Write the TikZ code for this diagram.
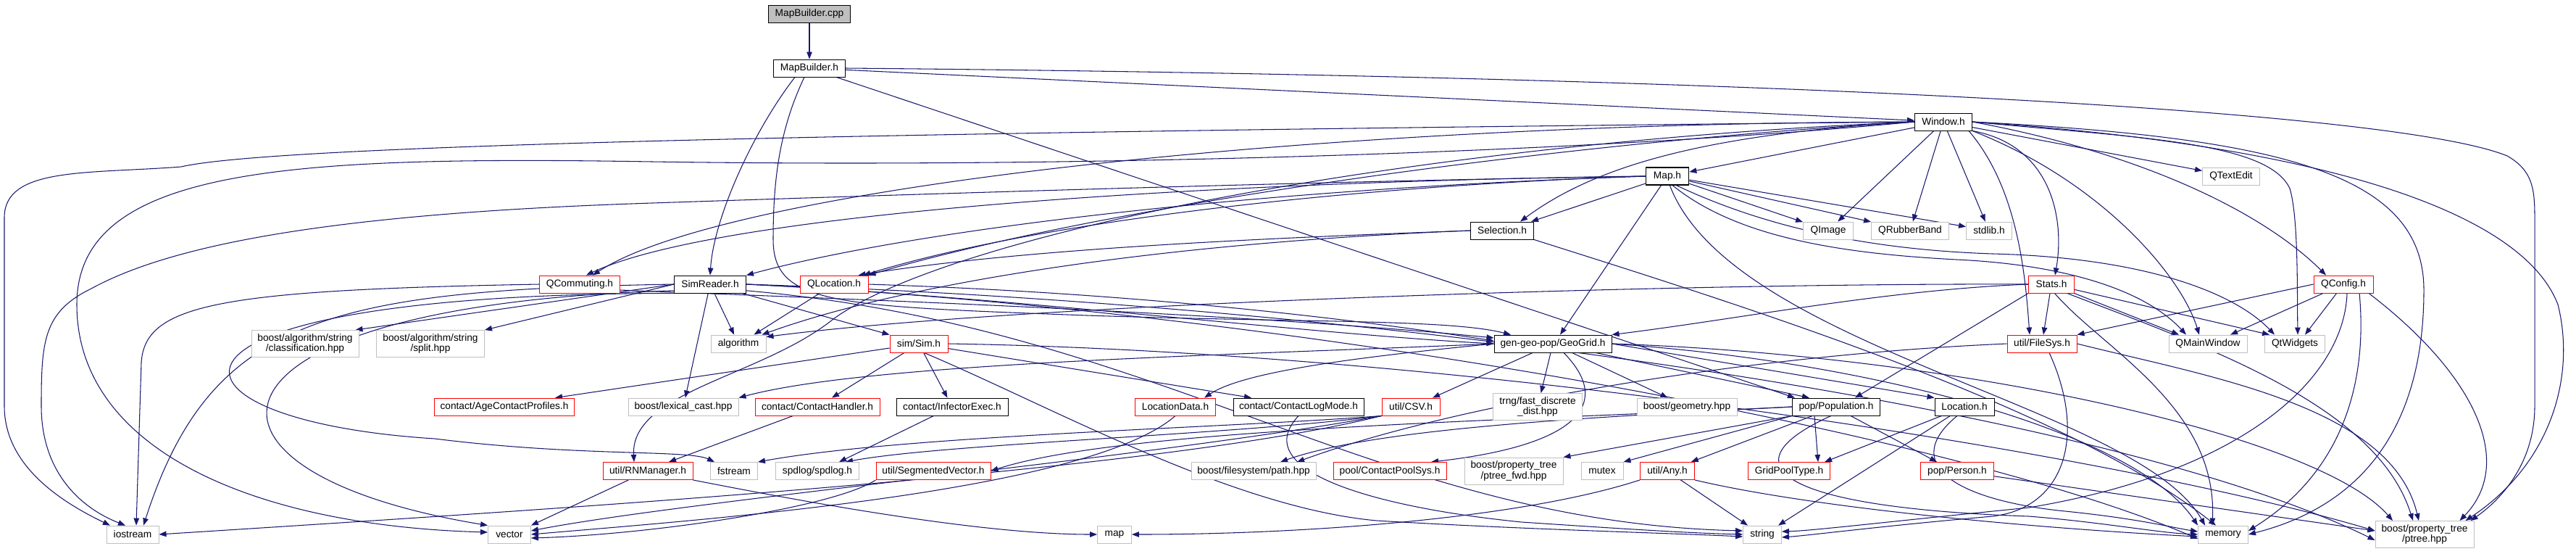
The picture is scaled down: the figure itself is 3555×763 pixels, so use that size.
\documentclass[tikz,border=0pt]{standalone}
\usepackage{fontspec}
\setmainfont{Liberation Sans}
\usetikzlibrary{arrows.meta,backgrounds}
\definecolor{edgeblue}{HTML}{191970}
\definecolor{extgray}{HTML}{BFBFBF}
\newcommand{\dxfont}{\fontsize{3.9}{4.1}\selectfont}

\begin{document}
\begin{tikzpicture}[x=0.01cm, y=0.01cm,
    incbox/.style={draw, line width=0.25pt, fill=white, inner sep=0pt, minimum height=0.24cm, font=\dxfont, align=center},
    docfile/.style={incbox, draw=black},
    extfile/.style={incbox, draw=extgray},
    cutfile/.style={incbox, draw=red},
    rootfile/.style={incbox, draw=black, fill=extgray},
    twoline/.style={minimum height=0.37cm},
    inc/.style={draw=edgeblue, line width=0.3pt, -{Triangle[length=0.1cm, width=0.075cm]}}
  ]
    \useasboundingbox (0,0) rectangle (3555,-763);

    % Top of the graph.
    \node[rootfile, minimum width=1.13cm] (cpp) at (1117,-19) {MapBuilder.cpp};
    \node[docfile, minimum width=0.99cm] (mbh) at (1117,-94) {MapBuilder.h};
    \node[docfile, minimum width=0.79cm] (win) at (2682,-168) {Window.h};
    \node[docfile, minimum width=0.59cm, line width=0.45pt] (maph) at (2301,-243) {Map.h};
    \node[extfile, minimum width=0.79cm] (qtext) at (3079,-243) {QTextEdit};
    \node[docfile, minimum width=0.87cm] (sel) at (2073,-318) {Selection.h};
    \node[extfile, minimum width=0.69cm] (qimg) at (2523,-318) {QImage};
    \node[extfile, minimum width=1.07cm] (qrub) at (2636,-318) {QRubberBand};
    \node[extfile, minimum width=0.63cm] (stdlib) at (2745,-318) {stdlib.h};

    % Viewer headers.
    \node[cutfile, minimum width=1.11cm] (qcomm) at (800,-392) {QCommuting.h};
    \node[docfile, minimum width=0.99cm] (simr) at (980,-392) {SimReader.h};
    \node[cutfile, minimum width=0.94cm] (qloc) at (1151,-392) {QLocation.h};
    \node[cutfile, minimum width=0.63cm] (stats) at (2831,-392) {Stats.h};
    \node[cutfile, minimum width=0.82cm] (qconf) at (3234,-392) {QConfig.h};

    % Middle row.
    \node[extfile, twoline, minimum width=1.48cm] (cls) at (421,-474) {boost/algorithm/string\\/classification.hpp};
    \node[extfile, twoline, minimum width=1.49cm] (split) at (594,-474) {boost/algorithm/string\\/split.hpp};
    \node[extfile, minimum width=0.76cm] (algo) at (1019,-474) {algorithm};
    \node[cutfile, minimum width=0.80cm] (sim) at (1268,-474) {sim/Sim.h};
    \node[docfile, minimum width=1.62cm] (geo) at (2143,-474) {gen-geo-pop/GeoGrid.h};
    \node[cutfile, minimum width=0.96cm] (fsys) at (2818,-474) {util/FileSys.h};
    \node[extfile, minimum width=1.08cm] (qmw) at (3047,-474) {QMainWindow};
    \node[extfile, minimum width=0.83cm] (qtw) at (3167,-474) {QtWidgets};

    \node[cutfile, minimum width=1.93cm] (agecp) at (696,-561) {contact/AgeContactProfiles.h};
    \node[extfile, minimum width=1.52cm] (lex) at (943,-561) {boost/lexical\_cast.hpp};
    \node[cutfile, minimum width=1.72cm] (chand) at (1128,-561) {contact/ContactHandler.h};
    \node[docfile, minimum width=1.54cm] (infx) at (1314,-561) {contact/InfectorExec.h};
    \node[cutfile, minimum width=1.11cm] (locd) at (1622,-561) {LocationData.h};
    \node[docfile, minimum width=1.80cm] (clog) at (1792,-561) {contact/ContactLogMode.h};
    \node[cutfile, minimum width=0.80cm] (csv) at (1947,-561) {util/CSV.h};
    \node[extfile, twoline, minimum width=1.23cm] (trng) at (2122,-561) {trng/fast\_discrete\\\_dist.hpp};
    \node[extfile, minimum width=1.38cm] (bgeo) at (2328,-561) {boost/geometry.hpp};
    \node[docfile, minimum width=1.21cm] (pop) at (2534,-561) {pop/Population.h};
    \node[docfile, minimum width=0.82cm] (loc) at (2711,-561) {Location.h};

    \node[cutfile, minimum width=1.24cm] (rnm) at (894,-649.5) {util/RNManager.h};
    \node[extfile, minimum width=0.65cm] (fstr) at (1013,-649.5) {fstream};
    \node[extfile, minimum width=1.15cm] (spd) at (1128,-649.5) {spdlog/spdlog.h};
    \node[cutfile, minimum width=1.58cm] (segv) at (1288,-649.5) {util/SegmentedVector.h};
    \node[extfile, minimum width=1.72cm] (bfs) at (1730,-649.5) {boost/filesystem/path.hpp};
    \node[cutfile, minimum width=1.56cm] (cps) at (1918,-649.5) {pool/ContactPoolSys.h};
    \node[extfile, twoline, minimum width=1.36cm] (pfwd) at (2089,-649.5) {boost/property\_tree\\/ptree\_fwd.hpp};
    \node[extfile, minimum width=0.58cm] (mutex) at (2211,-649.5) {mutex};
    \node[cutfile, minimum width=0.75cm] (any) at (2301,-649.5) {util/Any.h};
    \node[cutfile, minimum width=1.13cm] (gpt) at (2469,-649.5) {GridPoolType.h};
    \node[cutfile, minimum width=1.01cm] (person) at (2701,-649.5) {pop/Person.h};

    % Bottom row.
    \node[extfile, minimum width=0.72cm] (ios) at (183,-737) {iostream};
    \node[extfile, minimum width=0.59cm] (vec) at (703,-737) {vector};
    \node[extfile, minimum width=0.47cm] (stdmap) at (1538,-737) {map};
    \node[extfile, minimum width=0.53cm] (str) at (2432,-737) {string};
    \node[extfile, minimum width=0.69cm] (mem) at (3068,-737) {memory};
    \node[extfile, twoline, minimum width=1.36cm] (ptree) at (3346,-737) {boost/property\_tree\\/ptree.hpp};

    \begin{scope}[on background layer]
    \fill[white] (0,0) rectangle (3555,-763);

    % MapBuilder.cpp and MapBuilder.h
    \draw[inc] (cpp) -- (mbh);
    \draw[inc] (mbh) -- (win);
    \draw[inc] ([xshift=-0.2cm]mbh.south) .. controls (1040,-180) and (985,-300) .. (simr.north);
    \draw[inc] ([xshift=-0.07cm]mbh.south) .. controls (1075,-180) and (1067,-250) .. (1067,-330) .. controls (1067,-420) and (1150,-422) .. (1500,-435) .. controls (1800,-445) and (2000,-440) .. ([xshift=-0.58cm]geo.north);
    \draw[inc] (mbh) -- ([xshift=-0.57cm]pop.north);
    \draw[inc] (mbh.east) .. controls (2400,-105) and (3300,-150) .. (3460,-215) .. controls (3495,-235) and (3498,-260) .. (3498,-300) -- (3498,-560) .. controls (3498,-640) and (3450,-690) .. ([xshift=-0.05cm]ptree.north east);

    % Window.h
    \draw[inc] (win) -- (maph);
    \draw[inc] (win.west) .. controls (2350,-185) and (2200,-230) .. ([xshift=0.25cm]sel.north);
    \draw[inc] (win) -- (qimg);
    \draw[inc] (win) -- (qrub);
    \draw[inc] (win) -- (stdlib);
    \draw[inc] (win) -- (qtext);
    \draw[inc] (win.south east) .. controls (2830,-200) and (2850,-300) .. ([xshift=0.05cm]stats.north);
    \draw[inc] ([xshift=-0.05cm]win.south east) .. controls (2785,-260) and (2795,-380) .. ([xshift=-0.17cm]fsys.north);
    \draw[inc] (win.east) .. controls (2950,-210) and (3120,-290) .. ([xshift=-0.24cm]qconf.north);
    \draw[inc] (win.south east) .. controls (2900,-250) and (3010,-380) .. ([xshift=-0.12cm]qmw.north);
    \draw[inc] (win.east) .. controls (2950,-190) and (3130,-195) .. (3160,-260) .. controls (3172,-300) and (3170,-400) .. ([xshift=0.04cm]qtw.north);
    \draw[inc] (win.east) .. controls (3150,-190) and (3345,-240) .. (3345,-400) .. controls (3345,-600) and (3250,-700) .. (mem.east);
    \draw[inc] (win.east) .. controls (3200,-200) and (3480,-290) .. (3530,-420) .. controls (3555,-520) and (3520,-640) .. ([xshift=-0.12cm]ptree.north east);
    \draw[inc] (win.west) .. controls (2100,-200) and (1500,-290) .. (qloc.north east);
    \draw[inc] (win.west) .. controls (1800,-170) and (1000,-260) .. ([xshift=0.18cm]qcomm.north);
    \draw[inc] (win.west) .. controls (1500,-180) and (400,-195) .. (250,-230) .. controls (120,-240) and (6,-230) .. (6,-300) -- (6,-560) .. controls (6,-640) and (80,-690) .. ([xshift=-0.31cm]ios.north);
    \draw[inc] (win.west) .. controls (2200,-210) and (1500,-232) .. (900,-223) .. controls (400,-215) and (106,-230) .. (106,-420) .. controls (106,-620) and (350,-725) .. ([yshift=0.03cm]vec.west);
    \draw[inc] (win.west) .. controls (1900,-200) and (1300,-330) .. (1150,-440) .. controls (1050,-520) and (870,-540) .. ([xshift=-0.19cm]rnm.north);

    % Map.h
    \draw[inc] (maph) -- ([xshift=0.4cm]sel.north);
    \draw[inc] (maph.west) .. controls (1900,-255) and (1450,-300) .. ([xshift=-0.07cm]qloc.north east);
    \draw[inc] (maph.west) .. controls (1700,-250) and (1000,-290) .. ([xshift=0.09cm]qcomm.north);
    \draw[inc] (maph.west) .. controls (1700,-262) and (1250,-320) .. (simr.north east);
    \draw[inc] (maph) -- ([xshift=0.1cm]geo.north);
    \draw[inc] (maph) -- (qimg);
    \draw[inc] (maph) -- (qrub);
    \draw[inc] (maph) -- (stdlib);
    \draw[inc] (maph.-60) .. controls (2400,-330) and (2550,-350) .. (2700,-358) .. controls (2850,-365) and (2960,-400) .. ([xshift=-0.3cm]qmw.north);
    \draw[inc] (maph.-45) .. controls (2450,-320) and (2600,-345) .. (2750,-350) .. controls (2950,-355) and (3080,-400) .. ([xshift=-0.28cm]qtw.north);
    \draw[inc] (maph.-75) .. controls (2390,-480) and (2950,-560) .. ([xshift=-0.25cm]mem.north);
    \draw[inc] (maph.west) .. controls (1800,-250) and (1200,-270) .. (900,-280) .. controls (500,-293) and (250,-330) .. (126,-398) .. controls (60,-430) and (57,-470) .. (57,-560) .. controls (57,-650) and (110,-700) .. ([xshift=-0.1cm]ios.north);

    % Selection.h, QCommuting.h, QLocation.h
    \draw[inc] (sel.west) .. controls (1700,-330) and (1400,-345) .. ([xshift=-0.14cm]qloc.north east);
    \draw[inc] (sel.west) .. controls (1600,-335) and (1250,-390) .. ([xshift=-0.06cm]algo.north east);
    \draw[inc] (sel.south east) .. controls (2400,-420) and (2850,-560) .. ([xshift=-0.1cm]mem.north);
    \draw[inc] (qcomm.west) .. controls (300,-400) and (200,-420) .. (195,-500) -- ([xshift=0.05cm]ios.north);
    \draw[inc] ([yshift=-0.08cm]qcomm.east) .. controls (1100,-410) and (1700,-430) .. ([yshift=0.08cm]geo.west);
    \draw[inc] (qloc) -- ([xshift=-0.17cm]algo.north east);
    \draw[inc] (qloc.east) .. controls (1600,-405) and (1900,-445) .. ([yshift=0.04cm]geo.west);

    % SimReader.h
    \draw[inc] (simr) -- (algo);
    \draw[inc] (simr) -- (lex);
    \draw[inc] (simr) -- (sim.north west);
    \draw[inc] (simr.west) -- ([xshift=-0.05cm]cls.north east);
    \draw[inc] (simr.west) -- (split.north east);
    \draw[inc] (simr.west) .. controls (450,-400) and (290,-440) .. ([xshift=0.15cm]ios.north);
    \draw[inc] (simr.-170) .. controls (250,-420) and (220,-650) .. (vec.north west);
    \draw[inc] (simr.-165) .. controls (150,-405) and (200,-580) .. (600,-605) .. controls (800,-630) and (950,-620) .. ([xshift=-0.27cm]fstr.north);
    \draw[inc] (simr.east) .. controls (1400,-410) and (1800,-460) .. (geo.west);
    \draw[inc] (simr.-10) .. controls (1600,-450) and (1900,-720) .. ([yshift=0.05cm]str.west);
    \draw[inc] (simr.east) .. controls (1800,-430) and (2700,-600) .. ([yshift=-0.06cm]mem.west);
    \draw[inc] (simr.east) .. controls (1900,-420) and (2900,-560) .. ([yshift=-0.08cm]ptree.west);

    % sim/Sim.h
    \draw[inc] (sim) -- (chand);
    \draw[inc] (sim) -- (infx);
    \draw[inc] (sim) -- ([xshift=-0.65cm]clog.north);
    \draw[inc] (sim) -- ([xshift=0.7cm]agecp.north);
    \draw[inc] (sim.-60) .. controls (1450,-560) and (1700,-700) .. (1900,-718) .. controls (2100,-730) and (2300,-735) .. ([yshift=-0.03cm]str.west);
    \draw[inc] (sim.east) .. controls (2000,-485) and (2900,-620) .. ([yshift=0.05cm]ptree.west);

    % gen-geo-pop/GeoGrid.h
    \draw[inc] (geo) -- ([xshift=0.3cm]csv.north);
    \draw[inc] (geo) -- (trng);
    \draw[inc] (geo) -- (bgeo);
    \draw[inc] (geo) -- ([xshift=-0.37cm]pop.north);
    \draw[inc] (geo.east) -- (loc.north west);
    \draw[inc] ([xshift=0.15cm]geo.south) .. controls (2230,-560) and (2170,-615) .. ([xshift=0.57cm]cps.north);
    \draw[inc] (geo.west) .. controls (1900,-490) and (1720,-510) .. ([xshift=0.4cm]locd.north);
    \draw[inc] (geo.west) .. controls (1700,-490) and (1200,-500) .. (lex.north east);
    \draw[inc] (geo.east) .. controls (2700,-490) and (3200,-600) .. ([xshift=-0.44cm]ptree.north);
    \draw[inc] (geo.east) .. controls (2600,-500) and (2950,-600) .. ([xshift=-0.35cm]mem.north);

    % Stats.h and QConfig.h
    \draw[inc] (stats) -- (fsys);
    \draw[inc] (stats) -- ([xshift=-0.4cm]qmw.north);
    \draw[inc] (stats) -- ([xshift=-0.35cm]qtw.north);
    \draw[inc] (stats.west) .. controls (2600,-400) and (2400,-440) .. (geo.north east);
    \draw[inc] (stats.south west) -- ([xshift=0.26cm]pop.north);
    \draw[inc] (stats.-70) .. controls (2900,-480) and (3060,-560) .. ([xshift=-0.15cm]mem.north);
    \draw[inc] (stats.-30) .. controls (3050,-480) and (3280,-560) .. ([xshift=-0.16cm]ptree.north);
    \draw[inc] (stats.west) .. controls (2300,-390) and (1400,-420) .. ([yshift=-0.03cm]algo.north east);
    \draw[inc] (qconf.west) -- (fsys.north east);
    \draw[inc] (qconf) -- ([xshift=0.31cm]qmw.north);
    \draw[inc] (qconf) -- ([xshift=0.14cm]qtw.north);
    \draw[inc] ([xshift=0.22cm]qconf.south) .. controls (3265,-500) and (3250,-640) .. ([yshift=0.05cm]mem.east);
    \draw[inc] ([xshift=0.35cm]qconf.south) .. controls (3420,-520) and (3470,-640) .. ([xshift=-0.2cm]ptree.north east);
    \draw[inc] ([xshift=0.05cm]qconf.south) .. controls (3235,-520) and (3100,-650) .. (2800,-700) .. controls (2600,-720) and (2500,-732) .. ([yshift=0.04cm]str.east);

    % util/FileSys.h
    \draw[inc] (fsys.west) .. controls (2400,-490) and (2000,-560) .. ([xshift=0.6cm]bfs.north);
    \draw[inc] (fsys.east) .. controls (3050,-520) and (3300,-560) .. ([xshift=-0.08cm]ptree.north);
    \draw[inc] ([xshift=0.1cm]fsys.south) .. controls (2880,-600) and (2850,-700) .. (2750,-712) .. controls (2600,-725) and (2500,-738) .. ([yshift=-0.04cm]str.east);

    % pop/Population.h and Location.h
    \draw[inc] (pop) -- (any);
    \draw[inc] ([xshift=-0.3cm]pop.south) -- ([xshift=0.4cm]gpt.north);
    \draw[inc] ([xshift=0.2cm]pop.south) -- ([xshift=-0.28cm]person.north);
    \draw[inc] (pop.south west) -- (mutex.north east);
    \draw[inc] (pop.south west) -- (pfwd.north east);
    \draw[inc] (pop.west) .. controls (2100,-580) and (1550,-590) .. (segv.east);
    \draw[inc] (pop.west) .. controls (2200,-575) and (1900,-590) .. ([xshift=0.37cm]bfs.north);
    \draw[inc] (pop.-120) .. controls (2380,-640) and (2450,-700) .. (2800,-712) .. controls (2900,-720) and (2980,-735) .. (mem.west);
    \draw[inc] (loc) -- ([xshift=0.49cm]gpt.north);
    \draw[inc] (loc) -- ([xshift=0.22cm]str.north);
    \draw[inc] ([xshift=-0.1cm]loc.south) .. controls (2620,-640) and (2700,-690) .. (2850,-705) .. controls (2950,-715) and (3000,-728) .. ([yshift=0.04cm]mem.west);

    % Lower headers
    \draw[inc] (person) -- ([yshift=0.05cm]ptree.west);
    \draw[inc] (any) -- ([xshift=-0.2cm]str.north);
    \draw[inc] (any.south east) .. controls (2500,-700) and (2800,-728) .. ([yshift=-0.03cm]mem.west);
    \draw[inc] (any.south west) .. controls (2100,-715) and (1800,-737) .. (stdmap.east);
    \draw[inc] (chand) -- ([xshift=0.29cm]rnm.north);
    \draw[inc] (infx) -- ([xshift=0.3cm]spd.north);
    \draw[inc] (csv.south west) .. controls (1700,-600) and (1300,-612) .. ([xshift=0.39cm]spd.north);
    \draw[inc] (csv.south west) .. controls (1700,-590) and (1250,-600) .. (fstr.north east);
    \draw[inc] (csv.south west) .. controls (1600,-650) and (800,-700) .. (ios.east);
    \draw[inc] (csv.south west) .. controls (1600,-630) and (950,-690) .. ([yshift=0.05cm]vec.east);
    \draw[inc] (locd.south) .. controls (1500,-680) and (950,-718) .. (vec.east);
    \draw[inc] (clog.south) .. controls (1720,-650) and (1900,-700) .. (2100,-720) .. controls (2250,-730) and (2330,-735) .. (str.west);
    \draw[inc] (rnm) -- (vec.north east);
    \draw[inc] (rnm.south east) .. controls (1100,-690) and (1350,-737) .. (stdmap.west);
    \draw[inc] (segv.south west) .. controls (1150,-700) and (900,-737) .. ([yshift=-0.05cm]vec.east);
    \end{scope}
\end{tikzpicture}
\end{document}
